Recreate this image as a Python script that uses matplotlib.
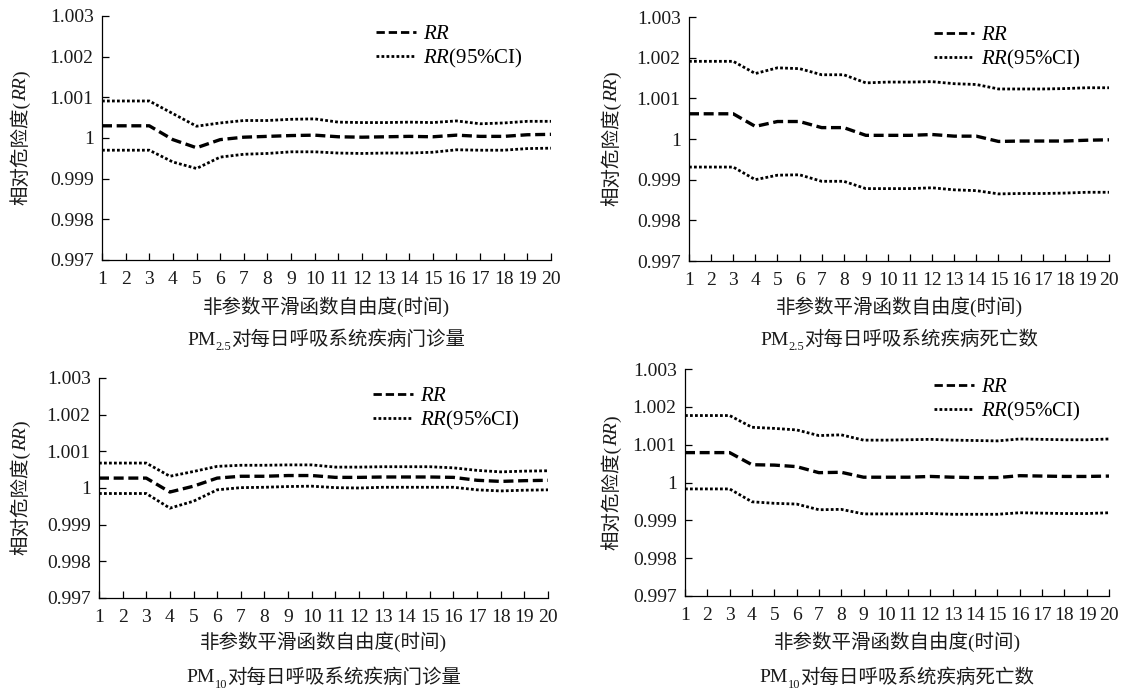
import matplotlib
matplotlib.use("Agg")
import matplotlib.pyplot as plt
from matplotlib.lines import Line2D

plt.rcParams['font.family'] = ['Liberation Serif', 'Noto Sans CJK SC', 'DejaVu Sans']
plt.rcParams['mathtext.fontset'] = 'custom'
plt.rcParams['mathtext.rm'] = 'Liberation Serif'
plt.rcParams['mathtext.it'] = 'Liberation Serif:italic'

df = list(range(1, 21))

# PM2.5 outpatient visits
pm25_out_rr = [1.0003, 1.0003, 1.0003, 0.99996, 0.99976, 0.99996, 1.00002, 1.00004, 1.00006, 1.00007,
               1.00003, 1.00002, 1.00003, 1.00004, 1.00003, 1.00007, 1.00004, 1.00004, 1.00008, 1.00009]
pm25_out_hi = [1.00091, 1.00091, 1.00091, 1.0006, 1.00029, 1.00037, 1.00043, 1.00043, 1.00046, 1.00047,
               1.00039, 1.00038, 1.00038, 1.00039, 1.00038, 1.00042, 1.00035, 1.00037, 1.00041, 1.00041]
pm25_out_lo = [0.9997, 0.9997, 0.9997, 0.99941, 0.99925, 0.99953, 0.9996, 0.99962, 0.99966, 0.99966,
               0.99963, 0.99962, 0.99963, 0.99963, 0.99965, 0.99971, 0.9997, 0.9997, 0.99974, 0.99975]

# PM2.5 deaths
pm25_death_rr = [1.00062, 1.00062, 1.00062, 1.00031, 1.00043, 1.00043, 1.00028, 1.00028, 1.00009, 1.00009,
                 1.00009, 1.00011, 1.00007, 1.00007, 0.99994, 0.99995, 0.99995, 0.99995, 0.99997, 0.99998]
pm25_death_hi = [1.00191, 1.00191, 1.00191, 1.00161, 1.00175, 1.00173, 1.00158, 1.00158, 1.00138, 1.0014,
                 1.0014, 1.00141, 1.00136, 1.00134, 1.00123, 1.00123, 1.00123, 1.00124, 1.00126, 1.00126]
pm25_death_lo = [0.99931, 0.99931, 0.99931, 0.999, 0.99911, 0.99912, 0.99896, 0.99896, 0.99878, 0.99878,
                 0.99878, 0.9988, 0.99875, 0.99873, 0.99865, 0.99866, 0.99866, 0.99867, 0.99869, 0.99869]

# PM10 outpatient visits
pm10_out_rr = [1.00027, 1.00027, 1.00027, 0.99989, 1.00005, 1.00027, 1.00032, 1.00032, 1.00034, 1.00034,
               1.00029, 1.00029, 1.0003, 1.0003, 1.0003, 1.00029, 1.00021, 1.00018, 1.0002, 1.00021]
pm10_out_hi = [1.00068, 1.00068, 1.00068, 1.00032, 1.00045, 1.00059, 1.00062, 1.00062, 1.00063, 1.00063,
               1.00057, 1.00057, 1.00058, 1.00058, 1.00058, 1.00055, 1.00048, 1.00044, 1.00046, 1.00047]
pm10_out_lo = [0.99985, 0.99985, 0.99985, 0.99945, 0.99964, 0.99995, 1.00001, 1.00002, 1.00004, 1.00005,
               1.00001, 1.0, 1.00002, 1.00002, 1.00002, 1.00002, 0.99995, 0.99992, 0.99994, 0.99995]

# PM10 deaths
pm10_death_rr = [1.00079, 1.00079, 1.00079, 1.00047, 1.00046, 1.00042, 1.00026, 1.00027, 1.00014, 1.00014,
                 1.00014, 1.00016, 1.00014, 1.00013, 1.00013, 1.00018, 1.00017, 1.00016, 1.00016, 1.00017]
pm10_death_hi = [1.00177, 1.00177, 1.00177, 1.00146, 1.00143, 1.00139, 1.00124, 1.00126, 1.00112, 1.00112,
                 1.00113, 1.00114, 1.00112, 1.00111, 1.0011, 1.00115, 1.00114, 1.00113, 1.00113, 1.00115]
pm10_death_lo = [0.99983, 0.99983, 0.99983, 0.99949, 0.99945, 0.99943, 0.99928, 0.99929, 0.99917, 0.99917,
                 0.99917, 0.99918, 0.99916, 0.99916, 0.99916, 0.9992, 0.99919, 0.99918, 0.99918, 0.9992]

yticks = [0.997, 0.998, 0.999, 1.0, 1.001, 1.002, 1.003]
ytick_labels = ['0.997', '0.998', '0.999', '1', '1.001', '1.002', '1.003']

xlabel = '非参数平滑函数自由度(时间)'
ylabel_parts = ['相对危险度(', 'RR', ')']
pollutants = ['2.5', '2.5', '10', '10']
outcomes = ['对每日呼吸系统疾病门诊量', '对每日呼吸系统疾病死亡数',
            '对每日呼吸系统疾病门诊量', '对每日呼吸系统疾病死亡数']

panels = [
    (pm25_out_rr, pm25_out_hi, pm25_out_lo),
    (pm25_death_rr, pm25_death_hi, pm25_death_lo),
    (pm10_out_rr, pm10_out_hi, pm10_out_lo),
    (pm10_death_rr, pm10_death_hi, pm10_death_lo),
]

W, H = 1126, 695
# axes boxes in pixels: left, right, top, bottom
boxes_px = [(102, 551, 16, 260), (689, 1109, 17, 261), (99, 548, 378, 598), (685, 1109, 369, 596)]
ylabel_x = [20, 611, 20, 611]
xlabel_y = [307, 307, 642, 642]
title_y = [340, 340, 678, 678]

fig = plt.figure(figsize=(W / 100, H / 100), dpi=100)
txt = '#1a1a1a'
fs = 14
groups = []

for i, ((rr, hi, lo), (l, r, t, b)) in enumerate(zip(panels, boxes_px)):
    ax = fig.add_axes([l / W, 1 - b / H, (r - l) / W, (b - t) / H])
    ax.plot(df, hi, color='black', lw=2.0, linestyle=(0, (1, 0.8)))
    ax.plot(df, lo, color='black', lw=2.0, linestyle=(0, (1, 0.8)))
    ax.plot(df, rr, color='black', lw=2.4, linestyle=(0, (3, 1.4)))
    ax.set_xlim(1, 20)
    ax.set_ylim(0.997, 1.003)
    ax.set_xticks(df)
    ax.set_xticklabels([str(d) for d in df])
    ax.set_yticks(yticks)
    ax.set_yticklabels(ytick_labels)
    ax.spines['top'].set_visible(False)
    ax.spines['right'].set_visible(False)
    ax.spines['left'].set_linewidth(0.9)
    ax.spines['bottom'].set_linewidth(0.9)
    ax.tick_params(axis='x', direction='in', length=5, width=0.9, pad=8,
                   labelsize=fs, labelcolor=txt)
    ax.tick_params(axis='y', direction='in', length=5, width=0.9, pad=6,
                   labelsize=fs, labelcolor=txt)

    handles = [Line2D([], [], color='black', lw=2.0, linestyle=(0, (3, 1.4))),
               Line2D([], [], color='black', lw=2.0, linestyle=(0, (1, 0.8)))]
    ax.legend(handles, ['$RR$', '$RR$(95%CI)'], loc='upper right', frameon=False,
              fontsize=15, handlelength=1.9, handletextpad=0.35, labelspacing=0.15,
              borderaxespad=0.0, bbox_to_anchor=(1 - 20 / (r - l), 1.0))

    # x label
    fig.text(((l + r) / 2) / W, 1 - xlabel_y[i] / H, xlabel, ha='center', va='center',
             fontsize=fs, color=txt)

    # title: PM + subscript + Chinese text, chained
    t0 = fig.text(0, 1 - title_y[i] / H, 'PM', ha='left', va='center', fontsize=fs, color=txt)
    t1 = ax.annotate(pollutants[i], xy=(1, 0.42), xycoords=t0, ha='left', va='top',
                     fontsize=9, color=txt, annotation_clip=False)
    t2 = ax.annotate(outcomes[i], xy=(1, 0), xycoords=(t1, t0), ha='left', va='bottom',
                     fontsize=fs, color=txt, annotation_clip=False)
    groups.append(('h', [t0, t1, t2], (l + r) / 2))

    # y label: rotated, chained pieces with italic RR
    y0 = fig.text(ylabel_x[i] / W, 0, ylabel_parts[0], rotation=90, ha='center',
                  va='bottom', fontsize=fs, color=txt)
    y1 = ax.annotate(ylabel_parts[1], xy=(1, 1), xycoords=y0, rotation=90, ha='right',
                     va='bottom', fontsize=fs, style='italic', color=txt, annotation_clip=False)
    y2 = ax.annotate(ylabel_parts[2], xy=(1, 1), xycoords=y1, rotation=90, ha='right',
                     va='bottom', fontsize=fs, color=txt, annotation_clip=False)
    groups.append(('v', [y0, y1, y2], (t + b) / 2))

# center the chained text groups on their axes
fig.canvas.draw()
renderer = fig.canvas.get_renderer()
for kind, parts, center in groups:
    exts = [p.get_window_extent(renderer) for p in parts]
    px, py = parts[0].get_position()
    if kind == 'h':
        xmin = min(e.x0 for e in exts)
        xmax = max(e.x1 for e in exts)
        shift = center - (xmin + xmax) / 2
        parts[0].set_position((px + shift / W, py))
    else:
        ymin = min(e.y0 for e in exts)
        ymax = max(e.y1 for e in exts)
        shift = (H - center) - (ymin + ymax) / 2
        parts[0].set_position((px, py + shift / H))

fig.savefig('out.png', dpi=100)
